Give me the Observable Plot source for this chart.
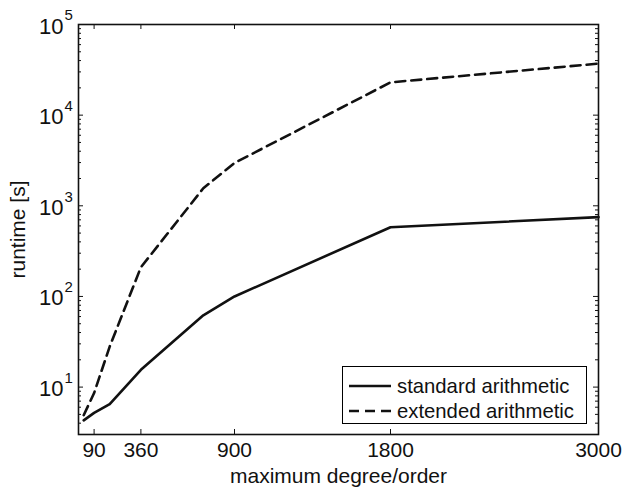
<!DOCTYPE html>
<html>
<head>
<meta charset="utf-8">
<script src="https://cdn.jsdelivr.net/npm/d3@7"></script>
<script src="https://cdn.jsdelivr.net/npm/@observablehq/plot@0.6"></script>
<style>
  body { margin: 0; background: #fff; }
  #wrap { position: relative; width: 622px; height: 488px; font-family: "Liberation Sans", Arial, Helvetica, sans-serif; }
  #legend { position: absolute; left: 342px; top: 366px; width: 245px; height: 58px; border: 1.5px solid #000; background: #fff; box-sizing: border-box; }
  #legend .row { position: absolute; left: 5px; height: 24px; display: flex; align-items: center; font-size: 20.3px; color: #111; }
  #legend svg { margin-right: 5px; }
</style>
</head>
<body>
<div id="wrap"></div>
<script>
// ---- data ----
const degree = [30, 90, 180, 360, 720, 900, 1800, 3000];
const standardRuntime = [4.3, 5.2, 6.5, 15.5, 62, 100, 580, 750];
const extendedRuntime = [4.9, 8.6, 28, 210, 1560, 2970, 23000, 37000];
const seriesNames = ["standard arithmetic", "extended arithmetic"];
const xTicks = [90, 360, 900, 1800, 3000];
const yMajorTicks = [10, 100, 1000, 10000, 100000];
const yExponents = ["1", "2", "3", "4", "5"];
const xLabel = "maximum degree/order";
const yLabel = "runtime [s]";

const rows = degree.flatMap((d, i) => [
  {degree: d, runtime: standardRuntime[i], series: seriesNames[0]},
  {degree: d, runtime: extendedRuntime[i], series: seriesNames[1]}
]);
const minorTicks = [];
for (let e = 0; e <= 4; e++) for (let m = 2; m <= 9; m++) {
  const v = m * Math.pow(10, e);
  if (v >= 3 && v <= 100000) minorTicks.push(v);
}
const yExpRows = yMajorTicks.map((v, i) => ({v, e: yExponents[i]}));

const W = 622, H = 488, mL = 78, mR = 24, mT = 24, mB = 54;
const fw = W - mL - mR, fh = H - mT - mB;
const font = "'Liberation Sans', Arial, Helvetica, sans-serif";

const chart = Plot.plot({
  width: W, height: H,
  marginLeft: mL, marginRight: mR, marginTop: mT, marginBottom: mB,
  style: {fontFamily: font, color: "#111", background: "#fff"},
  x: {domain: [0, 3000]},
  y: {type: "log", domain: [3, 100000]},
  marks: [
    Plot.axisX(xTicks, {tickSize: 0, tickPadding: 8, fontSize: 21, label: null, tickFormat: d => String(d)}),
    Plot.axisY(yMajorTicks, {tickSize: 0, tickPadding: 15, fontSize: 22, label: null, tickFormat: () => "10", dy: 2}),
    Plot.text(yExpRows, {y: "v", text: "e", frameAnchor: "left", dx: -14, dy: -9, textAnchor: "start", fontSize: 15}),
    // ticks (inward, MATLAB box style)
    Plot.tickX(xTicks, {x: d => d, insetTop: fh - 5, stroke: "#111", strokeWidth: 1}),
    Plot.tickX(xTicks, {x: d => d, insetBottom: fh - 5, stroke: "#111", strokeWidth: 1}),
    Plot.tickY(yMajorTicks, {y: d => d, insetRight: fw - 5, stroke: "#111", strokeWidth: 1}),
    Plot.tickY(yMajorTicks, {y: d => d, insetLeft: fw - 5, stroke: "#111", strokeWidth: 1}),
    Plot.tickY(minorTicks, {y: d => d, insetRight: fw - 3, stroke: "#111", strokeWidth: 1}),
    Plot.tickY(minorTicks, {y: d => d, insetLeft: fw - 3, stroke: "#111", strokeWidth: 1}),
    Plot.line(rows.filter(r => r.series === seriesNames[0]), {x: "degree", y: "runtime", stroke: "#111", strokeWidth: 2.6}),
    Plot.line(rows.filter(r => r.series === seriesNames[1]), {x: "degree", y: "runtime", stroke: "#111", strokeWidth: 2.6, strokeDasharray: "10,6"}),
    Plot.frame({stroke: "#111", strokeWidth: 1.6}),
    Plot.text([xLabel], {text: d => d, frameAnchor: "bottom", lineAnchor: "middle", dy: 42, fontSize: 21}),
    Plot.text([yLabel], {text: d => d, frameAnchor: "left", textAnchor: "middle", lineAnchor: "middle", dx: -60, rotate: -90, fontSize: 21})
  ]
});
const wrap = document.getElementById("wrap");
wrap.appendChild(chart);

const legend = document.createElement("div");
legend.id = "legend";
seriesNames.forEach((name, i) => {
  const row = document.createElement("div");
  row.className = "row";
  row.style.top = (i === 0 ? 7 : 32) + "px";
  row.innerHTML = `<svg width="44" height="10"><line x1="1" y1="5" x2="43" y2="5" stroke="#111" stroke-width="2.6" ${i ? 'stroke-dasharray="10,6"' : ''}/></svg><span>${name}</span>`;
  legend.appendChild(row);
});
wrap.appendChild(legend);
</script>
</body>
</html>
